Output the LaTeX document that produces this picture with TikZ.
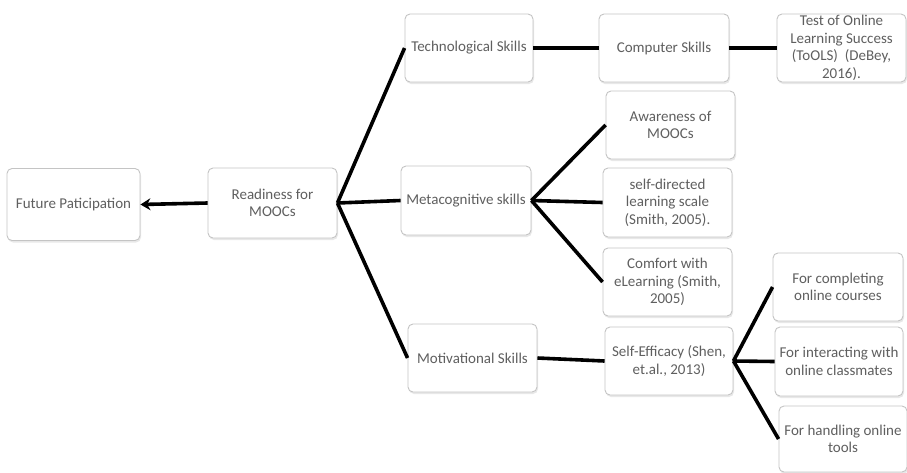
\documentclass[tikz,border=0pt]{standalone}
\usepackage{fontspec}
\setmainfont{Carlito}
\usetikzlibrary{arrows.meta,shadows}

\definecolor{boxline}{HTML}{C4C4C4}
\definecolor{boxtext}{HTML}{5F5F5F}

\tikzset{
    skillbox/.style={draw=boxline,line width=0.9pt,rounded corners=5pt,fill=white,
        minimum width=129pt,minimum height=68pt,inner sep=1pt,align=center,
        text=boxtext,font=\fontsize{15}{17.5}\selectfont,
        drop shadow={opacity=0.18,shadow xshift=1pt,shadow yshift=-2pt}},
    link/.style={line width=3.6pt,black}
}

\begin{document}
\begin{tikzpicture}[x=1pt,y=-1pt]
        \useasboundingbox (0,0) rectangle (907,472);

        \node[skillbox,minimum width=133pt,minimum height=72pt] (future) at (73.5,204.5) {Future Paticipation};
        \node[skillbox,minimum height=70pt] (ready) at (272.5,203) {Readiness for\\MOOCs};

        \node[skillbox,minimum width=128pt] (tech) at (469,48) {Technological Skills};
        \node[skillbox,minimum width=130pt] (comp) at (664,48) {Computer Skills};
        \node[skillbox] (tools) at (841.5,48) {Test of Online\\Learning Success\\(ToOLS)\ \ (DeBey,\\2016).};

        \node[skillbox,minimum width=130pt,minimum height=69pt] (meta) at (466,200.5) {Metacognitive skills};
        \node[skillbox] (aware) at (670.5,125) {Awareness of\\MOOCs};
        \node[skillbox,minimum height=69pt] (selfdir) at (667.5,202.5) {self-directed\\learning scale\\(Smith, 2005).};
        \node[skillbox] (comfort) at (667.5,282) {Comfort with\\eLearning (Smith,\\2005)};

        \node[skillbox] (motiv) at (472.5,358) {Motivational Skills};
        \node[skillbox,minimum width=128pt] (selfeff) at (669,361) {Self-Efficacy (Shen,\\et.al., 2013)};
        \node[skillbox,minimum width=130pt] (complete) at (838,287) {For completing\\online courses};
        \node[skillbox,minimum width=128pt,minimum height=69pt] (interact) at (839,361.5) {For interacting with\\online classmates};
        \node[skillbox,minimum width=128pt,minimum height=66pt] (handle) at (843,439) {For handling online\\tools};

        % arrow to the outcome
        \draw[link,-{Stealth[length=10pt,width=12pt]}] (ready.west) -- (future.east);

        \draw[link] (ready.east) -- (tech.west);
        \draw[link] (ready.east) -- (meta.west);
        \draw[link] (ready.east) -- (motiv.west);

        \draw[link] (tech.east) -- (comp.west);
        \draw[link] (comp.east) -- (tools.west);

        \draw[link] (meta.east) -- (aware.west);
        \draw[link] (meta.east) -- (selfdir.west);
        \draw[link] (meta.east) -- (comfort.west);

        \draw[link] (motiv.east) -- (selfeff.west);
        \draw[link] (selfeff.east) -- (complete.west);
        \draw[link] (selfeff.east) -- (interact.west);
        \draw[link] (selfeff.east) -- (handle.west);
\end{tikzpicture}
\end{document}
